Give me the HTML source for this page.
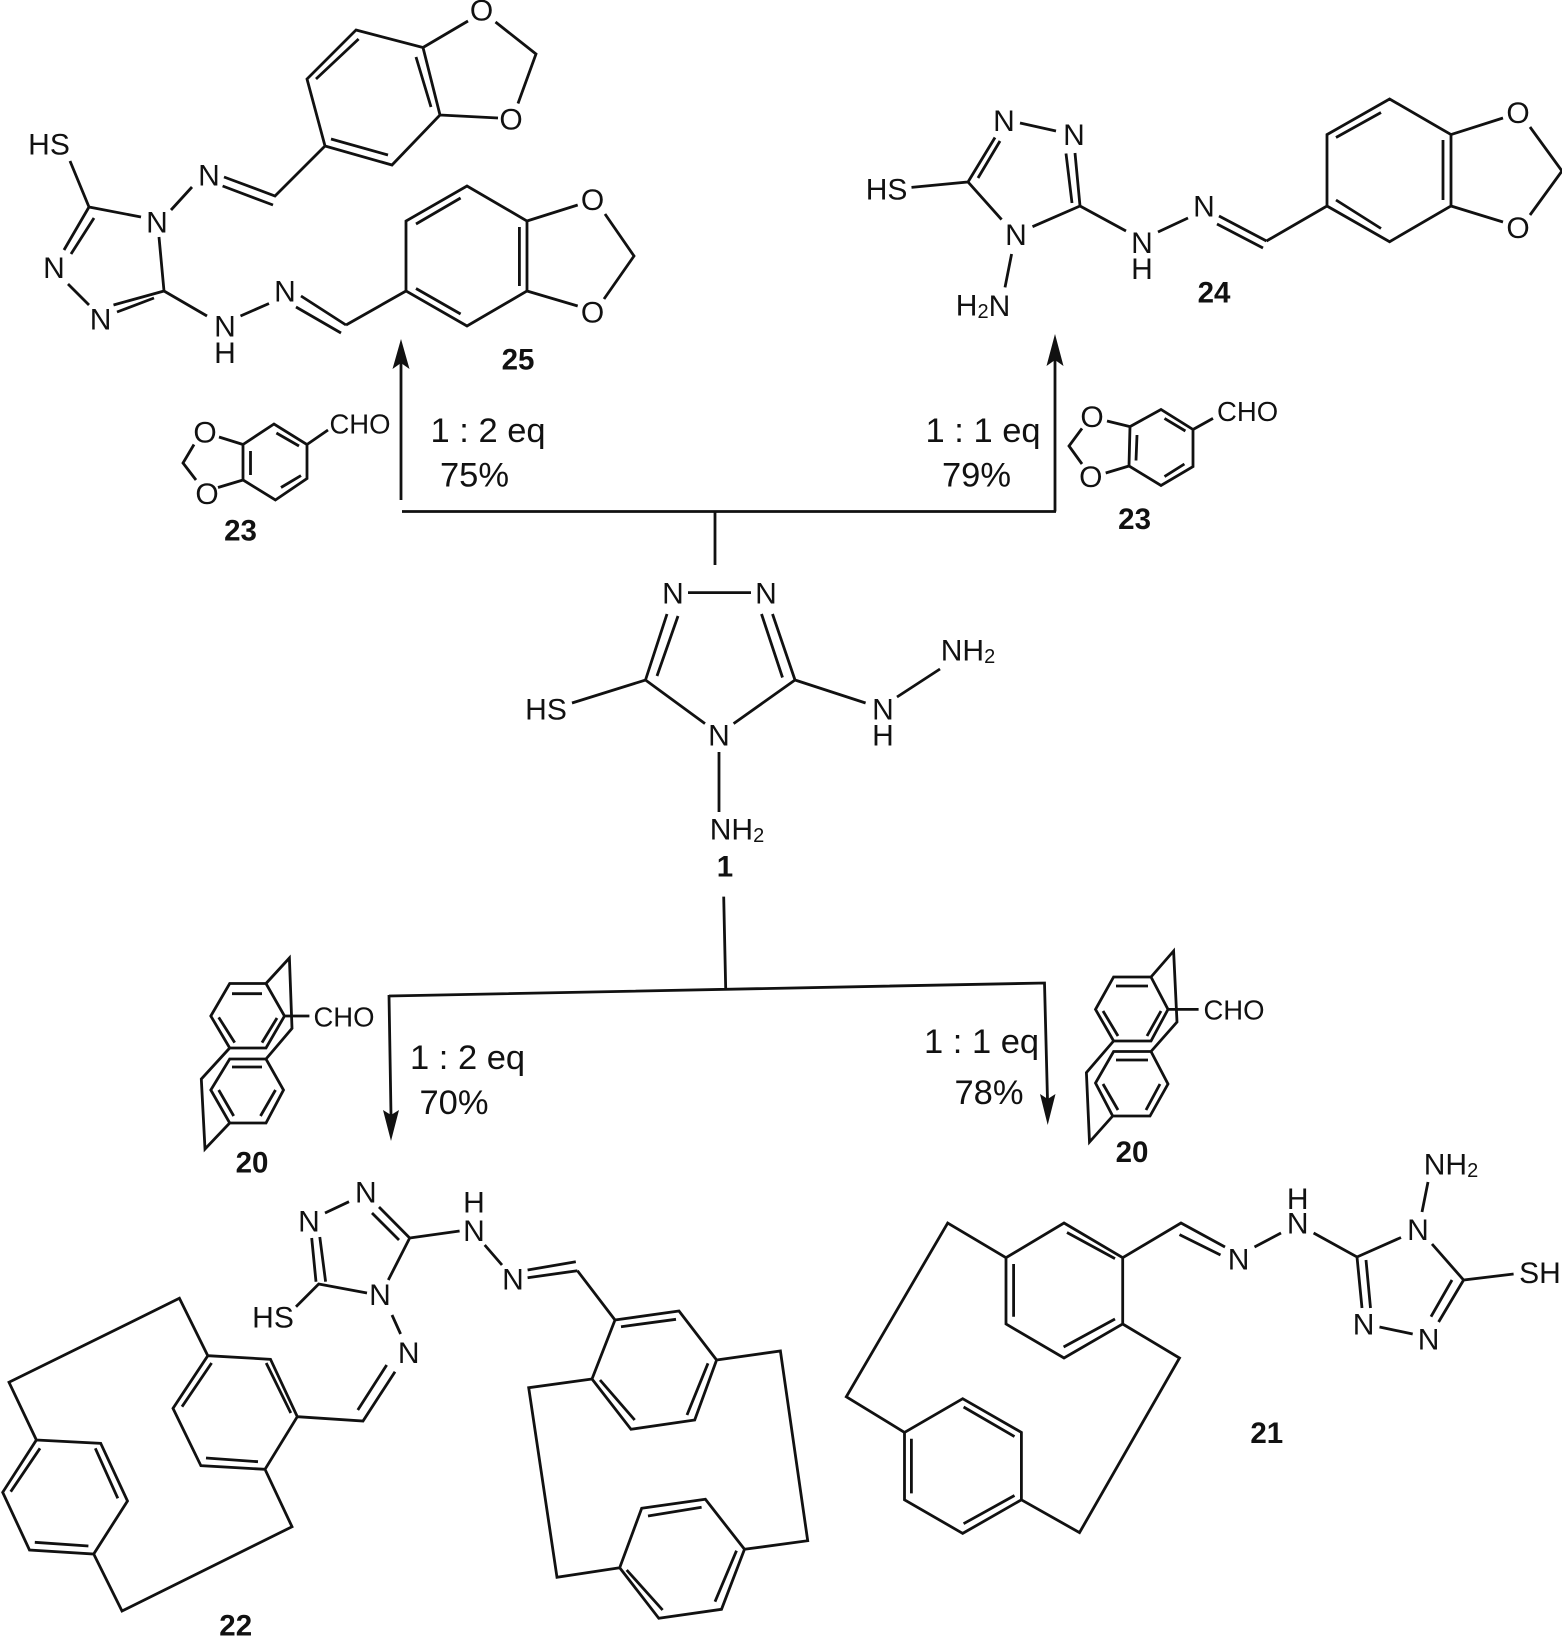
<!DOCTYPE html>
<html><head><meta charset="utf-8"><style>
html,body{margin:0;padding:0;background:#fff}
svg{display:block}
text{font-family:"Liberation Sans",sans-serif;fill:#111;text-anchor:middle;dominant-baseline:central}
.a{font-size:30px}.c{font-size:27.5px}.b{font-size:29.5px;font-weight:bold}.t{font-size:34.5px;dominant-baseline:alphabetic;text-anchor:start}
path{fill:none;stroke:#111;stroke-width:2.8;stroke-linejoin:miter;stroke-linecap:butt}
path.f{fill:#111;stroke:none}
</style></head><body>
<svg xmlns="http://www.w3.org/2000/svg" width="1562" height="1638" viewBox="0 0 1562 1638">
<!-- compound 25 -->
<path d="M356 30L423 47.5L440 115L392 165L325 146L307 79Z M358.6 39L316 79 M416 57L431 107 M331 139L388 155
M423 47.5L468 21 M495.5 22L536 54L518 103.5 M440 115L498 118
M325 146L275 196L224 177 M273 205L222.6 186 M192 187L171 210
M70 161L89 207L141 217 M159 237L164 291 M89 207L64 250 M94 218L71 254 M68 284L89 305 M164 291L113.5 305 M154 298L117 312
M164 291L207 316 M240.5 316L269 303.5 M301 296L346 325 M296 307L341 333 M346 325L406 291
M406 291L406 221L467 186L527 221L527 291L467 326Z M416 224L460.6 198 M519.4 227L519.4 286 M416 288.5L460.6 314
M527 221L577.7 205 M527 291L577.7 306 M605 214L634 256L604 299"/>
<text class="a" x="481.6" y="11">O</text><text class="a" x="511" y="120">O</text>
<text class="a" x="209" y="176">N</text><text class="a" x="157" y="223">N</text><text class="a" x="49" y="145">HS</text>
<text class="a" x="54" y="268.5">N</text><text class="a" x="100.6" y="320">N</text><text class="a" x="225" y="327">N</text><text class="a" x="225" y="353.5">H</text>
<text class="a" x="285" y="292">N</text><text class="a" x="592.6" y="200.6">O</text><text class="a" x="592.6" y="313">O</text>
<text class="b" x="518" y="360">25</text>
<!-- top arrows -->
<path d="M401 500L401 360 M402 511.5L1056 511.5 M715 511.5L715 565 M1055 511.5L1055 358"/>
<path class="f" d="M401 339L409.5 369L401 363L392.5 369Z M1055 334L1063.5 366L1055 360L1046.5 366Z"/>
<!-- left 23 -->
<path d="M243 444.5L274 424L307 444.5L307 478.5L275.4 500L243 480Z M276.4 433L299 446 M281 487.5L301 475.6 M250.5 451L250.5 475
M307 444.5L328 430 M243 444.5L219 437 M243 480L218 487.5 M194 444.5L183 463L196 480"/>
<text class="c" x="360" y="424">CHO</text><text class="a" x="205" y="433">O</text><text class="a" x="207" y="494.5">O</text>
<text class="b" x="240.5" y="531">23</text>
<text class="t" x="430.5" y="442">1 : 2 eq</text><text class="t" x="440" y="486.5">75%</text>
<!-- compound 24 -->
<path d="M1020 123L1056 131 M968 182L995 137.5 M978 178L1000 141 M1066 153.5L1072 203 M1075 153L1080 206
M911.5 187.4L968 182L1001.6 219.6 M1080 206L1032.5 226.7 M1011.6 254L1005 287.4 M1080 206L1126 231
M1158 232L1188 218 M1219 216L1266.5 241 M1217 224L1263 248 M1266.5 241L1327 206
M1327 206L1327 134.6L1389.6 99L1451 134.6L1451 206L1389.6 241.7Z M1336 137.5L1381 112.5 M1443 140L1443 200 M1336 200L1381 228.5
M1451 134.6L1503 118 M1451 206L1503 222 M1530 127L1562 171 M1530 215L1562 171"/>
<text class="a" x="1004" y="121.4">N</text><text class="a" x="1074" y="135.7">N</text><text class="a" x="886.6" y="190">HS</text><text class="a" x="1016" y="235.6">N</text>
<text class="a" x="983" y="306">H<tspan font-size="20" dy="6">2</tspan><tspan dy="-6">N</tspan></text>
<text class="a" x="1142" y="243.5">N</text><text class="a" x="1142" y="269.5">H</text><text class="a" x="1204" y="207">N</text>
<text class="a" x="1518" y="113.5">O</text><text class="a" x="1518" y="228.5">O</text><text class="b" x="1214" y="293">24</text>
<!-- right 23 -->
<path d="M1130 426.6L1161 409.5L1193 429.5L1193 466.6L1161 485.5L1129 466Z M1164.5 418.4L1185.4 431 M1164.5 476.6L1184.4 464 M1137 435L1136 460.5
M1193 429.5L1213 418.4 M1130 426.6L1107 421 M1129 466L1105.7 473 M1082 428.4L1069 446L1082 464"/>
<text class="c" x="1247.6" y="411.6">CHO</text><text class="a" x="1092" y="417.7">O</text><text class="a" x="1090.8" y="477.7">O</text>
<text class="b" x="1134.6" y="519.4">23</text>
<text class="t" x="925.5" y="442">1 : 1 eq</text><text class="t" x="942" y="486.5">79%</text>
<!-- compound 1 -->
<path d="M688 592.6L751 592.6 M645.5 680L667 614 M657 676L678 616 M761.5 614L782.5 677.5 M772.5 614L795 680
M572 703L645.5 680L705 723.6 M795 680L733.6 723.6 M719 752L719 812 M795 680L865.6 703 M897 697L940 669"/>
<text class="a" x="673" y="594">N</text><text class="a" x="766" y="594">N</text><text class="a" x="546" y="710">HS</text><text class="a" x="719" y="736">N</text>
<text class="a" x="737" y="830">NH<tspan font-size="20" dy="6">2</tspan></text><text class="b" x="725" y="867">1</text>
<text class="a" x="883" y="710">N</text><text class="a" x="883" y="736">H</text><text class="a" x="968" y="651">NH<tspan font-size="20" dy="6">2</tspan></text>
<!-- lower arrows -->
<path d="M723.7 896.6L725.7 989 M389 996L1044.5 983L1047.5 1100 M389 995L391 1115"/>
<path class="f" d="M391 1141L383 1110L391 1115L399 1110Z M1047.7 1125L1040 1094L1047.7 1099L1055.5 1094Z"/>
<text class="t" x="410" y="1069">1 : 2 eq</text><text class="t" x="419.5" y="1114">70%</text>
<text class="t" x="924" y="1053">1 : 1 eq</text><text class="t" x="954.5" y="1104">78%</text>
<!-- left 20 -->
<path d="M229.7 983.5L266 983.5L284.5 1016L266 1048L229.7 1048L210.8 1016Z M232 993.7L262 993.7 M218.7 1017.4L234.7 1042.6 M277 1018L262 1042.6
M229.7 1059L266 1059L283.5 1090L266 1123L229.7 1123L210.8 1090Z M232 1067L262 1067 M218.7 1090L233.7 1116 M275.5 1090L260.5 1116
M266 983.5L289.4 958L292 1028.4L266 1059 M229.7 1048L201.3 1079L205 1149L229.7 1123 M284.5 1016L309.4 1016"/>
<text class="c" x="344" y="1017">CHO</text><text class="b" x="252" y="1163">20</text>
<!-- right 20 -->
<path d="M1113.6 977L1151 977L1168 1009.4L1151 1041L1113.6 1041L1095.5 1009.4Z M1116 986L1148 986 M1103 1011L1118 1036 M1161 1011L1147 1036
M1113.6 1051.5L1151 1051.5L1168 1084L1150 1116L1112.7 1116L1095.5 1083Z M1116 1060L1148 1060 M1103 1084L1118 1110 M1160 1084L1146 1110
M1151 977L1173.6 951L1177 1022L1151 1051.5 M1113.6 1041L1086.4 1072.6L1089.5 1142L1112.7 1116 M1168 1009.4L1198.6 1009.4"/>
<text class="c" x="1234" y="1010">CHO</text><text class="b" x="1132" y="1152.5">20</text>
<!-- compound 21 -->
<path d="M1064 1223L1122.7 1257.7L1122.7 1324L1064 1358L1006 1324L1006 1257.7Z M1067 1232.5L1115 1258.6 M1013.6 1264L1013.6 1316.7 M1063.6 1347L1115 1319
M1006 1257.7L947.7 1223L846.3 1396.8L904.5 1432.4
M904.5 1432.4L962.7 1398.7L1021.4 1432.4L1021.4 1499.8L962.7 1533.4L904.5 1499.8Z M963.6 1407L1014.5 1436.6 M911.4 1438.7L911.4 1493.4 M963.6 1523.7L1014.5 1495.5
M1122.7 1324L1179.5 1358L1079.5 1532.6L1021.4 1499.8
M1122.7 1257.7L1181 1223L1225 1247 M1179.5 1234.6L1220.5 1255 M1254.5 1247L1281 1233 M1313.6 1233L1357 1257L1401 1237.5 M1422 1212L1428 1182
M1357 1257L1362 1308 M1366 1260L1370.5 1308 M1379.5 1327L1412.7 1334 M1463.6 1280L1438.6 1322 M1452 1280L1431 1316.7 M1432 1244L1463.6 1280L1513.6 1274"/>
<text class="a" x="1238.6" y="1260">N</text><text class="a" x="1297.7" y="1224">N</text><text class="a" x="1297.7" y="1199.7">H</text>
<text class="a" x="1418" y="1230.4">N</text><text class="a" x="1451" y="1165">NH<tspan font-size="20" dy="6">2</tspan></text>
<text class="a" x="1363.6" y="1325">N</text><text class="a" x="1428.6" y="1340">N</text><text class="a" x="1540" y="1273.7">SH</text>
<text class="b" x="1266.8" y="1433.7">21</text>
<!-- compound 22 -->
<path d="M325 1213L349 1201.7 M409.7 1238L379 1207 M399 1240L372 1213 M311.7 1238L316 1281.7 M319.8 1237L325.6 1281.7
M296 1306.7L318.7 1284L367 1293 M409.7 1238L388.3 1280 M409.7 1238L459.6 1231 M484.7 1245L502 1265
M527.6 1270L575.8 1261.7 M527.6 1277.7L577.4 1270.7 M577.4 1270.7L615 1320
M615 1320L679 1311L716.6 1360L694.7 1420L631 1429.3L592 1379Z M621 1326.7L676 1319.3 M708 1363.3L687 1415 M600 1380L634.7 1420
M716.6 1360L780.4 1351L807.7 1540.7L744.5 1549.3 M592 1379L528.7 1387.7L557 1577.3L619.7 1567.7
M619.7 1567.7L641.7 1508.3L705.4 1499.3L744.5 1549.3L721.5 1609.3L658.8 1618.3Z M648 1516L701.6 1507.3 M736.5 1550.7L715 1601.7 M626.7 1570L662.6 1610
M207.8 1355.7L270.5 1359.3L297.3 1416.7L265 1469.3L200.9 1465.7L173 1408.3Z M211.6 1363L182 1406.7 M266.2 1363L290.8 1413 M206 1458L258 1461.7
M207.8 1355.7L179.4 1298.3L9 1382.3L36.4 1440 M265 1469.3L292 1526.7L122 1611L93.7 1554
M36.4 1440L100.7 1443.3L127.5 1501L93.7 1554L29.5 1550L2.7 1492.3Z M40 1448.3L10.7 1491.7 M95.3 1448.3L117.8 1498.3 M34.8 1542.3L88.4 1546
M297.3 1416.7L363 1421L395 1371.7 M357.8 1410L386.7 1365 M392 1315L400.6 1334"/>
<text class="a" x="365.8" y="1193">N</text><text class="a" x="309" y="1222">N</text><text class="a" x="380" y="1295.7">N</text><text class="a" x="273" y="1318">HS</text>
<text class="a" x="474" y="1231.7">N</text><text class="a" x="474" y="1203">H</text><text class="a" x="513" y="1280">N</text><text class="a" x="408.7" y="1353.3">N</text>
<text class="b" x="235.7" y="1626">22</text>
</svg>
</body></html>
